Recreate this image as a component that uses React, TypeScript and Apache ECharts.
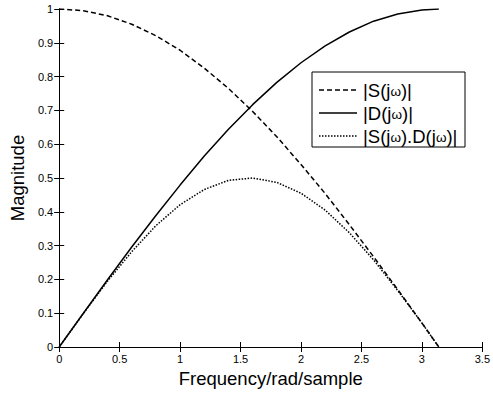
import React, { useEffect, useRef } from "react";
import * as echarts from "echarts";

const freq = [0, 0.2, 0.4, 0.6, 0.8, 1.0, 1.2, 1.4, 1.6, 1.8, 2.0, 2.2, 2.4, 2.6, 2.8, 3.0, 3.14];
const sMag = [1.0, 0.995, 0.98, 0.955, 0.921, 0.878, 0.825, 0.765, 0.697, 0.622, 0.54, 0.454, 0.362, 0.267, 0.17, 0.071, 0.0];
const dMag = [0.0, 0.1, 0.199, 0.296, 0.389, 0.479, 0.565, 0.644, 0.717, 0.783, 0.841, 0.891, 0.932, 0.964, 0.985, 0.997, 1.0];
const sdMag = [0.0, 0.099, 0.195, 0.282, 0.359, 0.421, 0.466, 0.493, 0.5, 0.487, 0.455, 0.405, 0.338, 0.258, 0.167, 0.071, 0.0];
const seriesNames = ["|S(jω)|", "|D(jω)|", "|S(jω).D(jω)|"];
const legendRich = [
  "{t||S(j}{w|ω}{t|)|}",
  "{t||D(j}{w|ω}{t|)|}",
  "{t||S(j}{w|ω}{t|).D(j}{w|ω}{t|)|}",
];

const font = "Liberation Sans, Arial, sans-serif";
const dashS = [5, 3];
const dashSD = [1.5, 1.5];

export default function App() {
  const ref = useRef<HTMLDivElement>(null);
  useEffect(() => {
    const chart = echarts.init(ref.current!, null, { renderer: "svg" });
    const pts = (ys: number[]) => freq.map((x, i) => [x, ys[i]]);
    const axisCommon = {
      axisLine: { show: true, lineStyle: { color: "#000", width: 1 } },
      axisTick: { show: true, inside: true, length: 5, lineStyle: { color: "#000" } },
      splitLine: { show: false },
    };
    const dashes: any[] = [dashS, null, dashSD];
    const legendTop = 72;
    const rowY = [90, 113, 136];
    const legendEls: any[] = [
      {
        type: "rect",
        shape: { x: 312, y: legendTop, width: 153, height: 75 },
        style: { fill: "#fff", stroke: "#000", lineWidth: 1 },
        z: 10,
      },
    ];
    rowY.forEach((y, i) => {
      legendEls.push({
        type: "line",
        shape: { x1: 319, y1: y, x2: 357, y2: y },
        style: { stroke: "#000", lineWidth: 1.5, lineDash: dashes[i] || undefined },
        z: 11,
      });
      legendEls.push({
        type: "text",
        x: 363,
        y: y,
        style: {
          text: legendRich[i],
          verticalAlign: "middle",
          align: "left",
          rich: {
            t: { fontFamily: font, fontSize: 18.5, fill: "#000" },
            w: { fontFamily: font, fontSize: 13.5, fill: "#000", padding: [3, 0, 0, 0] },
          },
        },
        z: 11,
      });
    });
    chart.setOption({
      animation: false,
      backgroundColor: "#fff",
      grid: { left: 56, right: 8, top: 9, bottom: 47 },
      graphic: legendEls,
      xAxis: [
        {
          type: "value",
          min: 0,
          max: 3.5,
          interval: 0.5,
          position: "bottom",
          name: "Frequency/rad/sample",
          nameLocation: "middle",
          nameGap: 21,
          nameTextStyle: { fontFamily: font, fontSize: 18.5, color: "#000" },
          axisLabel: { fontFamily: font, fontSize: 11, color: "#000", margin: 6 },
          ...axisCommon,
        },
        {
          type: "value",
          min: 0,
          max: 3.5,
          interval: 0.5,
          position: "top",
          axisLabel: { show: false },
          ...axisCommon,
        },
      ],
      yAxis: [
        {
          type: "value",
          min: 0,
          max: 1,
          interval: 0.1,
          position: "left",
          name: "Magnitude",
          nameLocation: "middle",
          nameGap: 30,
          nameTextStyle: { fontFamily: font, fontSize: 18.5, color: "#000" },
          axisLabel: { fontFamily: font, fontSize: 11, color: "#000", margin: 6 },
          ...axisCommon,
        },
        {
          type: "value",
          min: 0,
          max: 1,
          interval: 0.1,
          position: "right",
          axisLabel: { show: false },
          ...axisCommon,
        },
      ],
      series: [
        {
          name: seriesNames[0],
          type: "line",
          data: pts(sMag),
          symbol: "none",
          lineStyle: { color: "#000", width: 1.5, type: dashS },
        },
        {
          name: seriesNames[1],
          type: "line",
          data: pts(dMag),
          symbol: "none",
          lineStyle: { color: "#000", width: 1.5, type: "solid" },
        },
        {
          name: seriesNames[2],
          type: "line",
          data: pts(sdMag),
          symbol: "none",
          lineStyle: { color: "#000", width: 1.5, type: dashSD },
        },
      ],
    });
    return () => chart.dispose();
  }, []);
  return <div ref={ref} style={{ width: 493, height: 394, position: "absolute", left: 0, top: 0 }} />;
}
